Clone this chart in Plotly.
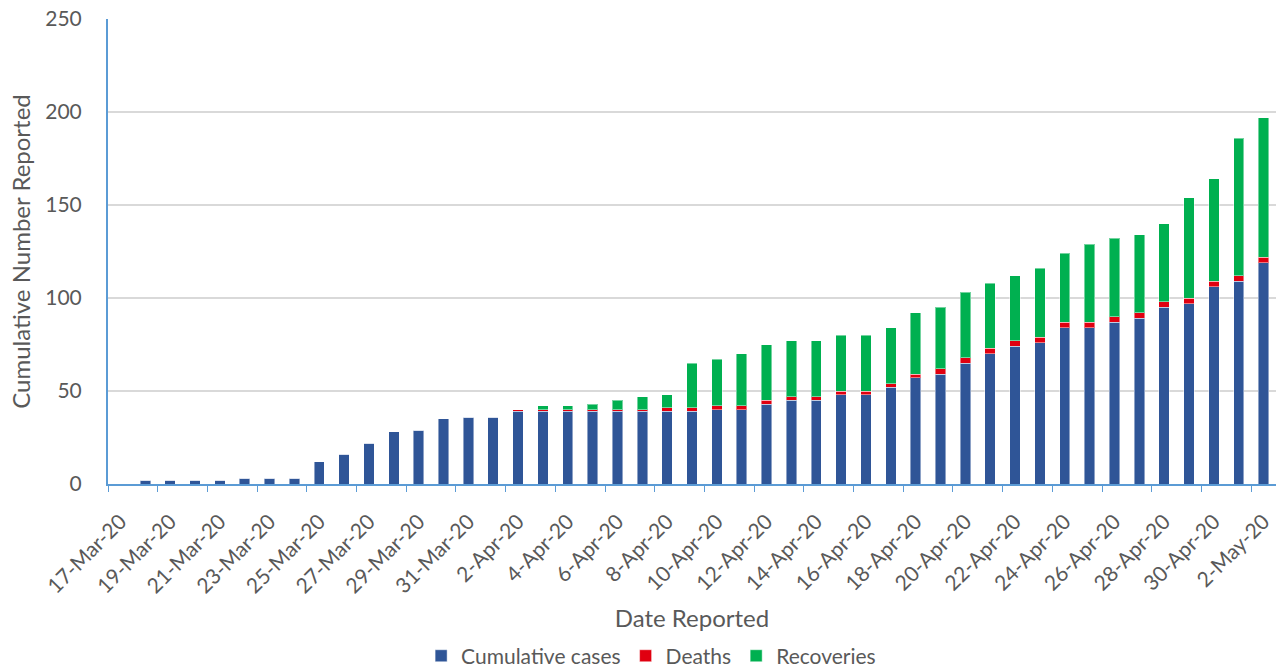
import plotly.graph_objects as go

dates = ["17-Mar-20", "18-Mar-20", "19-Mar-20", "20-Mar-20", "21-Mar-20", "22-Mar-20", "23-Mar-20",
         "24-Mar-20", "25-Mar-20", "26-Mar-20", "27-Mar-20", "28-Mar-20", "29-Mar-20", "30-Mar-20",
         "31-Mar-20", "1-Apr-20", "2-Apr-20", "3-Apr-20", "4-Apr-20", "5-Apr-20", "6-Apr-20",
         "7-Apr-20", "8-Apr-20", "9-Apr-20", "10-Apr-20", "11-Apr-20", "12-Apr-20", "13-Apr-20",
         "14-Apr-20", "15-Apr-20", "16-Apr-20", "17-Apr-20", "18-Apr-20", "19-Apr-20", "20-Apr-20",
         "21-Apr-20", "22-Apr-20", "23-Apr-20", "24-Apr-20", "25-Apr-20", "26-Apr-20", "27-Apr-20",
         "28-Apr-20", "29-Apr-20", "30-Apr-20", "1-May-20", "2-May-20"]

cases = [0, 2, 2, 2, 2, 3, 3, 3, 12, 16, 22, 28, 29, 35, 36, 36, 39, 39, 39, 39, 39, 39, 39, 39,
         40, 40, 43, 45, 45, 48, 48, 52, 57, 59, 65, 70, 74, 76, 84, 84, 87, 89, 95, 97, 106, 109, 119]
deaths = [0, 0, 0, 0, 0, 0, 0, 0, 0, 0, 0, 0, 0, 0, 0, 0, 1, 1, 1, 1, 1, 1, 2, 2,
          2, 2, 2, 2, 2, 2, 2, 2, 2, 3, 3, 3, 3, 3, 3, 3, 3, 3, 3, 3, 3, 3, 3]
recoveries = [0, 0, 0, 0, 0, 0, 0, 0, 0, 0, 0, 0, 0, 0, 0, 0, 0, 2, 2, 3, 5, 7, 7, 24,
              25, 28, 30, 30, 30, 30, 30, 30, 33, 33, 35, 35, 35, 37, 37, 42, 42, 42, 42, 54, 55, 74, 75]

series = [("Cumulative cases", cases, "#2F5597"),
          ("Deaths", deaths, "#E00010"),
          ("Recoveries", recoveries, "#00B050")]

fig = go.Figure()
for name, vals, color in series:
    fig.add_trace(go.Bar(
        x=dates, y=vals, name=name,
        marker=dict(color=color, line=dict(color="rgba(255,255,255,0.45)", width=1)),
    ))

font = "Lato, Calibri, Carlito, sans-serif"
# figure is taller than the 667px viewport so the legend never forces margin growth;
# the plot area still sits at y 19..484 in the viewport
fig.update_layout(
    barmode="stack",
    bargap=0.58,
    width=1276, height=720,
    margin=dict(l=108, r=0, t=19, b=236),
    plot_bgcolor="white", paper_bgcolor="white",
    font=dict(family=font, color="#595959", size=20),
    legend=dict(orientation="h", x=0.465, xanchor="center", y=-0.326, yanchor="top",
                font=dict(size=21, color="#595959"), traceorder="normal"),
    showlegend=True,
)
fig.update_xaxes(
    type="category", categoryarray=dates, categoryorder="array",
    tickmode="linear", tick0=0, dtick=2, tickson="boundaries",
    tickangle=-45, ticks="outside", ticklen=6, tickcolor="#5B9BD5",
    showline=True, linecolor="#5B9BD5", linewidth=2,
    showgrid=False, automargin=False,
    ticklabelstandoff=15,
    tickfont=dict(size=21, color="#595959"),
    title=dict(text="Date Reported", font=dict(size=24, color="#595959"), standoff=14),
)
fig.update_yaxes(
    range=[0, 250], dtick=50,
    showline=True, linecolor="#5B9BD5", linewidth=2,
    gridcolor="#D9D9D9", gridwidth=1.5, zeroline=False,
    automargin=False,
    ticklabelstandoff=20,
    tickfont=dict(size=21, color="#595959"),
    title=dict(text="Cumulative Number Reported", font=dict(size=24, color="#595959"), standoff=8),
)
fig.write_html("out.html", config={"displayModeBar": False},
               post_script="document.body.style.margin='0px';document.body.style.overflow='hidden';")
